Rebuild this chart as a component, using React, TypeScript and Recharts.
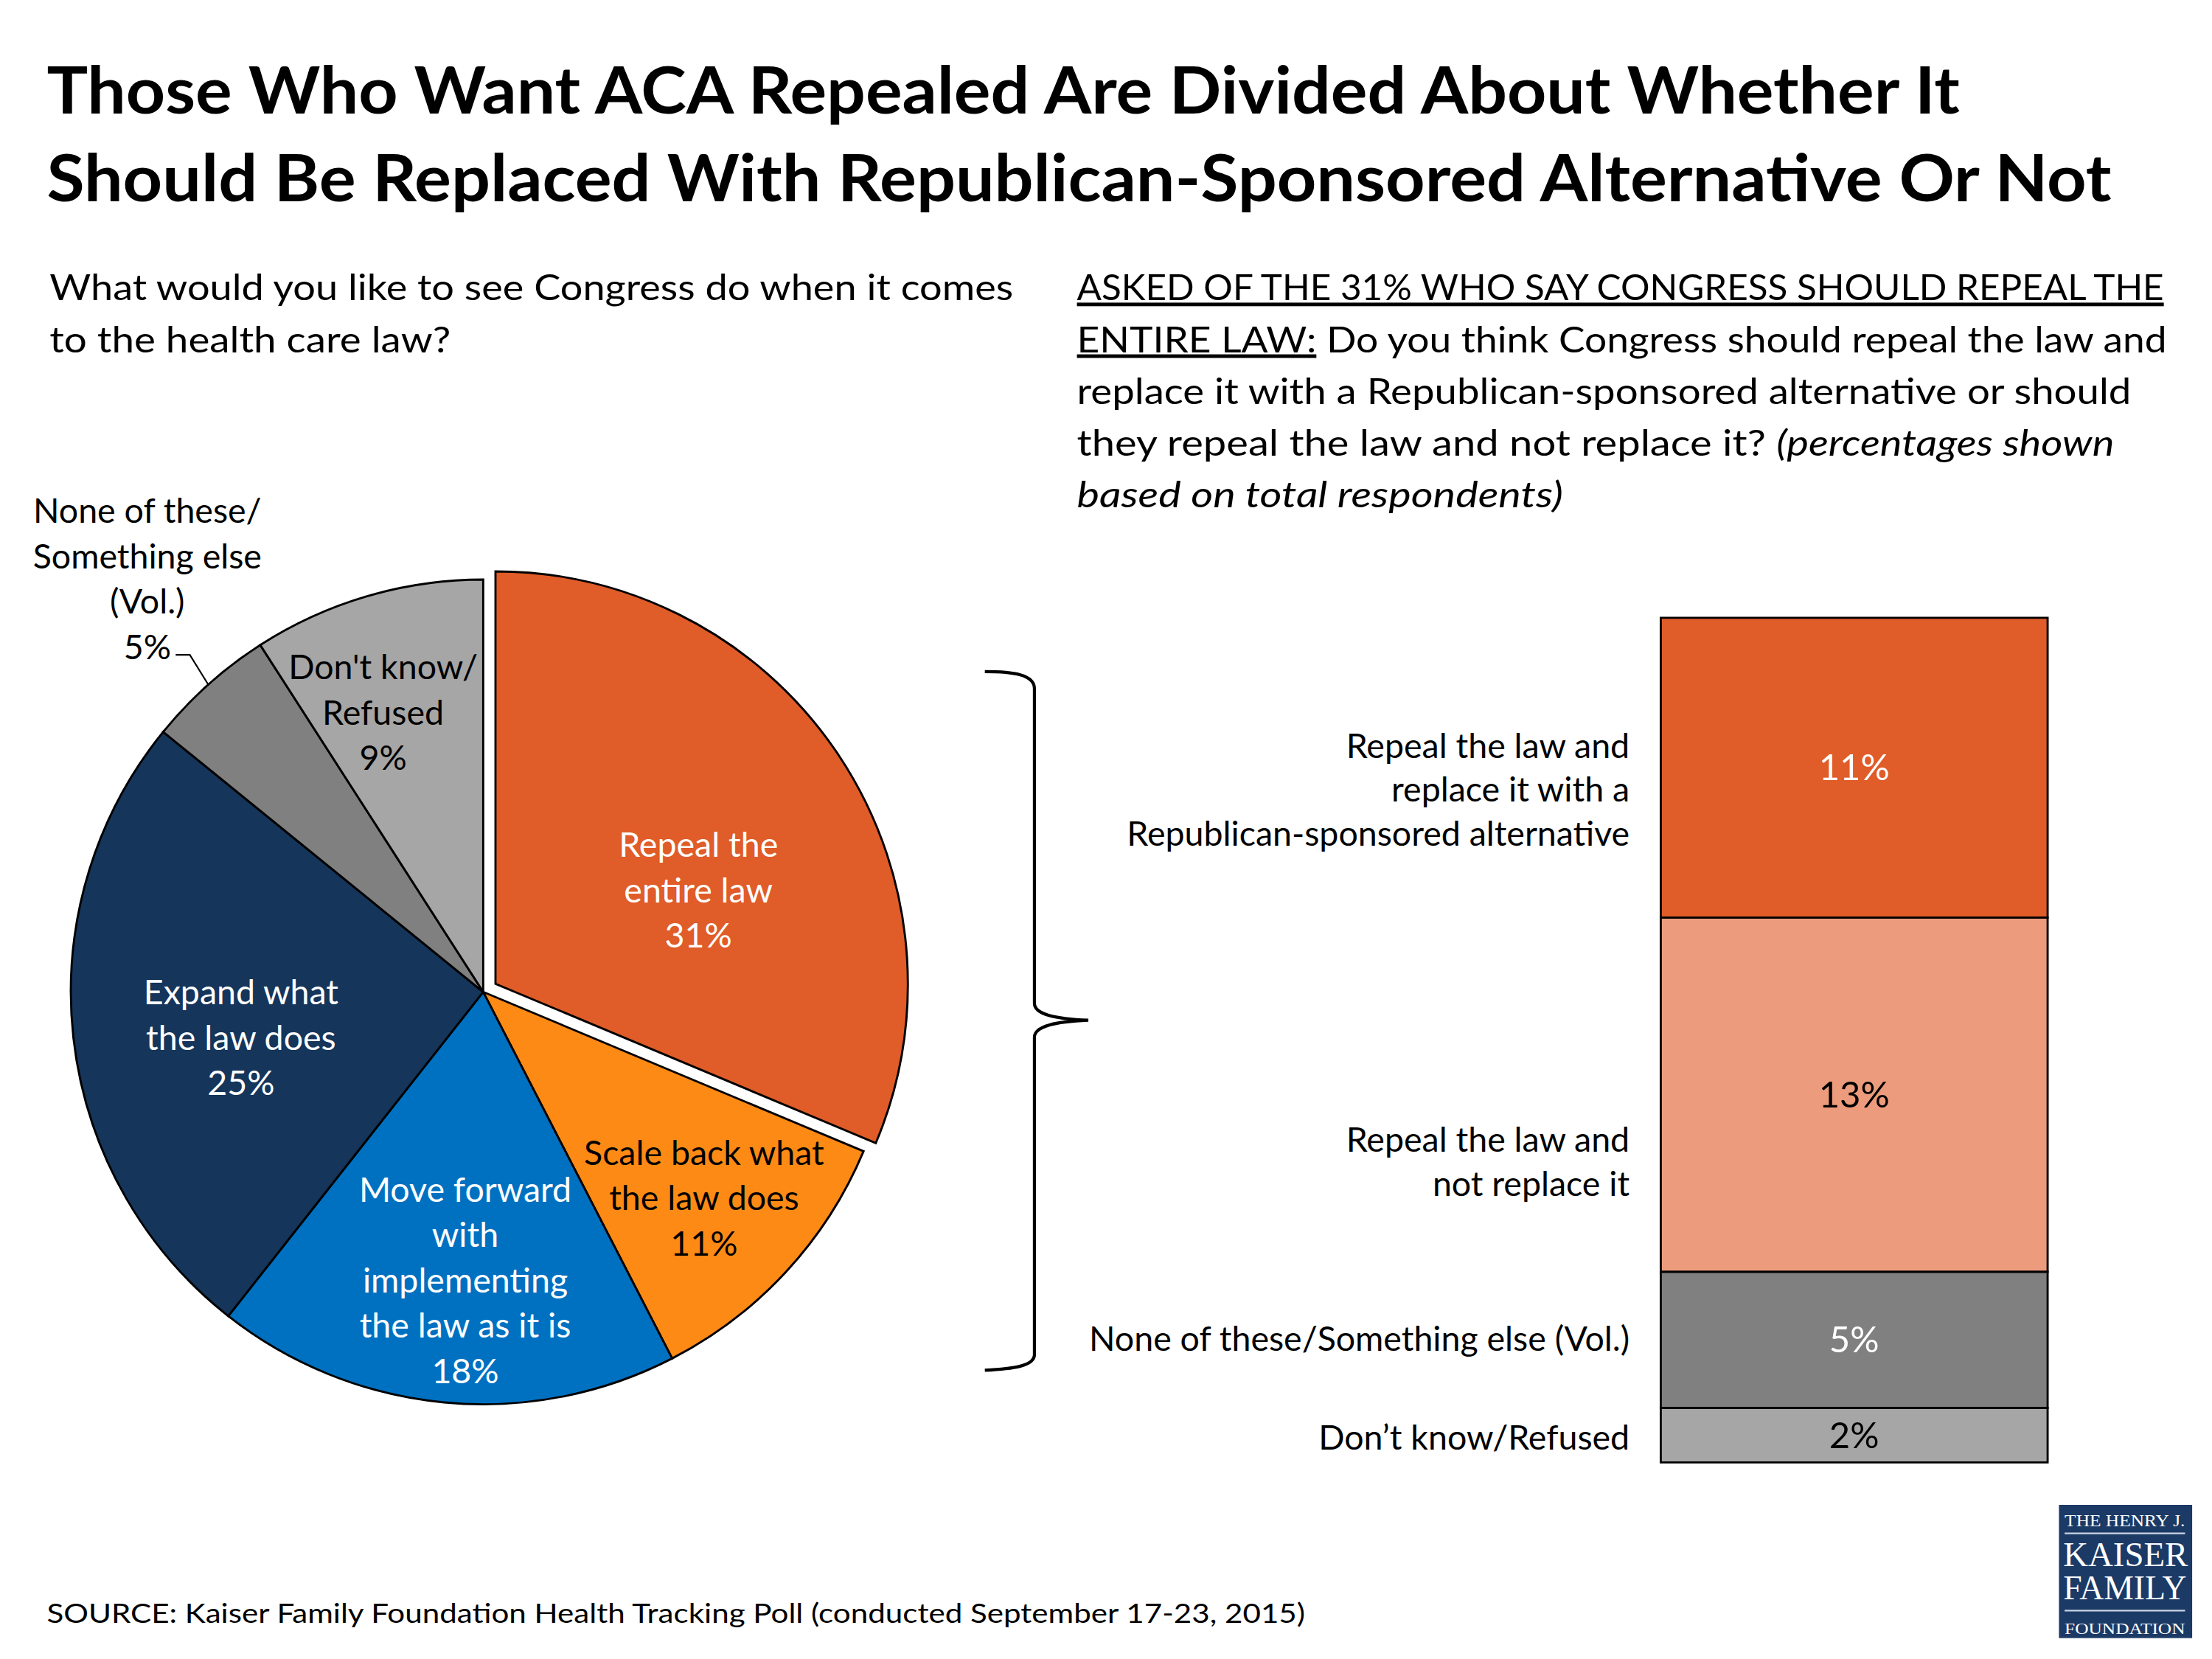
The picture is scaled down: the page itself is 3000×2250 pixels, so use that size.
import React from 'react';
import { PieChart, Pie, Cell, BarChart, Bar, XAxis, YAxis, LabelList } from 'recharts';

// ---------- data ----------
const pieCategories = [
  'Repeal the entire law',
  'Scale back what the law does',
  'Move forward with implementing the law as it is',
  'Expand what the law does',
  'None of these/Something else (Vol.)',
  "Don't know/Refused",
];
const pieValues = [31, 11, 18, 25, 5, 9];
const pieLabelLines = [
  ['Repeal the', 'entire law'],
  ['Scale back what', 'the law does'],
  ['Move forward', 'with', 'implementing', 'the law as it is'],
  ['Expand what', 'the law does'],
  ['None of these/', 'Something else', '(Vol.)'],
  ["Don't know/", 'Refused'],
];

const barKeys = ['replace', 'notReplace', 'none', 'dk'];
const barCategories = [
  'Repeal the law and replace it with a Republican-sponsored alternative',
  'Repeal the law and not replace it',
  'None of these/Something else (Vol.)',
  'Don\u2019t know/Refused',
];
const barValues = [11, 13, 5, 2];
const barLabelLines = [
  ['Repeal the law and', 'replace it with a', 'Republican-sponsored alternative'],
  ['Repeal the law and', 'not replace it'],
  ['None of these/Something else (Vol.)'],
  ['Don\u2019t know/Refused'],
];

// ---------- styles ----------
const W = 1561;
const H = 1171;
const S = 3000 / W;
const FONT = 'Lato, "Open Sans", sans-serif';

const pieColors = ['#E05C28', '#FD8A14', '#0071C1', '#15355A', '#808080', '#A6A6A6'];
const pieTextColors = ['#fff', '#000', '#fff', '#fff', '#000', '#000'];
const pieLabelPos = [
  { frac: 0.541, dAng: -9.1 },
  { frac: 0.734, dAng: -0.4 },
  { frac: 0.702, dAng: 1.9 },
  { frac: 0.598, dAng: 4.5 },
  { outside: true, frac: 1, dAng: 0 },
  { frac: 0.718, dAng: 3.4 },
];
const barColors = ['#E05C28', '#EC9C7C', '#808080', '#A6A6A6'];
const barPctColors = ['#fff', '#000', '#fff', '#000'];
const barLabelDy = [16, 48, 0, 2];

const PIE_W = 720;
const PIE_H = 700;
const PIE_LEFT = 0;
const PIE_TOP = 330;
const PIE_CX = 341;
const PIE_CY = 370;
const PIE_R = 291;
const EXPLODE = 10.4;
const RAD = Math.PI / 180;
const LABEL_SIZE = 24.2;
const LINE = 32;

const pieData = pieCategories.map((name, i) => ({ name, value: pieValues[i] }));
const pieTotal = pieValues.reduce((a, b) => a + b, 0);
const explodeMid = (90 - (pieValues[0] / pieTotal) * 360 / 2) * RAD;
const explodeDx = EXPLODE * Math.cos(explodeMid);
const explodeDy = -EXPLODE * Math.sin(explodeMid);

const barRow: Record<string, any> = { name: 'Repeal the entire law' };
barKeys.forEach((k, i) => {
  barRow[k] = barValues[i];
});
const barData = [barRow];
const barTotal = barValues.reduce((a, b) => a + b, 0);

const makePieLabel = (explodedOnly: boolean) => (props: any) => {
  const { index, midAngle, outerRadius } = props;
  const cx = props.cx ?? PIE_CX;
  const cy = props.cy ?? PIE_CY;
  if (explodedOnly !== (index === 0)) return null;
  const lines = [...pieLabelLines[index], `${pieValues[index]}%`];
  const pos: any = pieLabelPos[index];
  const color = pieTextColors[index];
  if (pos.outside) {
    const a = midAngle * RAD;
    const px = cx + outerRadius * Math.cos(a);
    const py = cy - outerRadius * Math.sin(a);
    const lastBase = py - 18;
    const tx = px - 43;
    return (
      <g>
        <polyline
          points={`${px},${py} ${px - 13},${py - 21} ${px - 23},${py - 21}`}
          fill="none"
          stroke="#000"
          strokeWidth={1.1}
        />
        <text textAnchor="middle" fill={color} fontSize={LABEL_SIZE} fontFamily={FONT}>
          {lines.map((t, i) => (
            <tspan key={i} x={tx} y={lastBase - (lines.length - 1 - i) * LINE}>
              {t}
            </tspan>
          ))}
        </text>
      </g>
    );
  }
  const a = (midAngle + pos.dAng) * RAD;
  const lx = cx + outerRadius * pos.frac * Math.cos(a);
  const ly = cy - outerRadius * pos.frac * Math.sin(a);
  return (
    <text textAnchor="middle" fill={color} fontSize={LABEL_SIZE} fontFamily={FONT}>
      {lines.map((t, i) => (
        <tspan key={i} x={lx} y={ly + (i - (lines.length - 1) / 2) * LINE + 8}>
          {t}
        </tspan>
      ))}
    </text>
  );
};

const makePct = (i: number) => (p: any) => {
  const { x, y, width, height, value } = p;
  return (
    <text
      x={x + width / 2}
      y={y + height / 2 + 9}
      textAnchor="middle"
      fill={barPctColors[i]}
      fontSize={25.5}
      fontFamily={FONT}
    >
      {`${value}%`}
    </text>
  );
};

const makeCat = (i: number) => (p: any) => {
  const { x, y, height } = p;
  const lines = barLabelLines[i];
  const c = y + height / 2 + barLabelDy[i];
  return (
    <text textAnchor="end" fill="#000" fontSize={LABEL_SIZE} fontFamily={FONT}>
      {lines.map((t, j) => (
        <tspan key={j} x={x - 22} y={c + (j - (lines.length - 1) / 2) * 31 + 8}>
          {t}
        </tspan>
      ))}
    </text>
  );
};

const BAR_LEFT = 760;
const BAR_TOP = 400;
const BAR_W = 800;
const BAR_H = 700;

export default function App() {
  const stackOrder = [3, 2, 1, 0]; // bottom to top
  return (
    <div
      style={{
        position: 'absolute',
        left: 0,
        top: 0,
        width: 3000,
        height: 2250,
        background: '#fff',
        overflow: 'hidden',
      }}
    >
      <div
        style={{
          position: 'absolute',
          left: 0,
          top: 0,
          width: W,
          height: H,
          transform: `scale(${S})`,
          transformOrigin: '0 0',
        }}
      >
        <div style={{ position: 'absolute', left: PIE_LEFT, top: PIE_TOP }}>
          <PieChart width={PIE_W} height={PIE_H} margin={{ top: 0, right: 0, bottom: 0, left: 0 }}>
            <Pie
              data={pieData}
              dataKey="value"
              nameKey="name"
              cx={PIE_CX}
              cy={PIE_CY}
              outerRadius={PIE_R}
              startAngle={90}
              endAngle={-270}
              stroke="#000"
              strokeWidth={1.5}
              labelLine={false}
              label={makePieLabel(false)}
              isAnimationActive={false}
            >
              {pieData.map((d, i) => (
                <Cell
                  key={d.name}
                  fill={i === 0 ? 'none' : pieColors[i]}
                  stroke={i === 0 ? 'none' : '#000'}
                />
              ))}
            </Pie>
            <Pie
              data={pieData}
              dataKey="value"
              nameKey="name"
              cx={PIE_CX + explodeDx}
              cy={PIE_CY + explodeDy}
              outerRadius={PIE_R}
              startAngle={90}
              endAngle={-270}
              stroke="#000"
              strokeWidth={1.5}
              labelLine={false}
              label={makePieLabel(true)}
              isAnimationActive={false}
            >
              {pieData.map((d, i) => (
                <Cell
                  key={d.name}
                  fill={i === 0 ? pieColors[0] : 'none'}
                  stroke={i === 0 ? '#000' : 'none'}
                />
              ))}
            </Pie>
          </PieChart>
        </div>

        <div style={{ position: 'absolute', left: BAR_LEFT, top: BAR_TOP }}>
          <BarChart
            width={BAR_W}
            height={BAR_H}
            data={barData}
            margin={{ top: 36, right: 115, bottom: 68, left: 412 }}
            barCategoryGap={0}
            barGap={0}
          >
            <XAxis dataKey="name" hide />
            <YAxis type="number" domain={[0, barTotal]} hide />
            {stackOrder.map((i) => (
              <Bar
                key={barKeys[i]}
                dataKey={barKeys[i]}
                name={barCategories[i]}
                stackId="a"
                fill={barColors[i]}
                stroke="#000"
                strokeWidth={1.5}
                isAnimationActive={false}
              >
                <LabelList dataKey={barKeys[i]} content={makePct(i)} />
                <LabelList dataKey={barKeys[i]} content={makeCat(i)} />
              </Bar>
            ))}
          </BarChart>
        </div>

        <svg
          width={W}
          height={H}
          style={{ position: 'absolute', left: 0, top: 0, pointerEvents: 'none' }}
          fontFamily={FONT}
        >
          {/* Title */}
          <text x={33} y={80} fontSize={46} fontWeight={700} fill="#000" textLength={1350} lengthAdjust="spacingAndGlyphs">
            Those Who Want ACA Repealed Are Divided About Whether It
          </text>
          <text x={33} y={142} fontSize={46} fontWeight={700} fill="#000" textLength={1457} lengthAdjust="spacingAndGlyphs">
            Should Be Replaced With Republican-Sponsored Alternative Or Not
          </text>

          {/* Left question */}
          <text x={35} y={212} fontSize={25.4} fill="#000" textLength={680} lengthAdjust="spacingAndGlyphs">
            What would you like to see Congress do when it comes
          </text>
          <text x={35} y={248.5} fontSize={25.4} fill="#000" textLength={283} lengthAdjust="spacingAndGlyphs">
            to the health care law?
          </text>

          {/* Right question */}
          <text x={760} y={212} fontSize={25.4} fill="#000" textLength={767} lengthAdjust="spacingAndGlyphs">
            <tspan style={{ textDecoration: 'underline' }}>ASKED OF THE 31% WHO SAY CONGRESS SHOULD REPEAL THE</tspan>
          </text>
          <text x={760} y={248.5} fontSize={25.4} fill="#000" textLength={769} lengthAdjust="spacingAndGlyphs">
            <tspan style={{ textDecoration: 'underline' }}>ENTIRE LAW:</tspan>
            <tspan>{' Do you think Congress should repeal the law and'}</tspan>
          </text>
          <text x={760} y={285} fontSize={25.4} fill="#000" textLength={744} lengthAdjust="spacingAndGlyphs">
            replace it with a Republican-sponsored alternative or should
          </text>
          <text x={760} y={321.5} fontSize={25.4} fill="#000" textLength={732} lengthAdjust="spacingAndGlyphs">
            <tspan>{'they repeal the law and not replace it? '}</tspan>
            <tspan fontStyle="italic">(percentages shown</tspan>
          </text>
          <text x={760} y={358} fontSize={25.4} fill="#000" fontStyle="italic" textLength={343} lengthAdjust="spacingAndGlyphs">
            based on total respondents)
          </text>

          {/* Bracket */}
          <path
            d="M 695 474 C 715 474, 730 476, 730 486 L 730 708 C 730 716, 745 719, 768 720 C 745 721, 730 724, 730 732 L 730 956 C 730 964, 715 966, 695 967"
            fill="none"
            stroke="#000"
            strokeWidth={2.2}
          />

          {/* Source */}
          <text x={33} y={1145} fontSize={19.5} fill="#000" textLength={888} lengthAdjust="spacingAndGlyphs">
            SOURCE: Kaiser Family Foundation Health Tracking Poll (conducted September 17-23, 2015)
          </text>

          {/* Logo */}
          <g fontFamily='"Liberation Serif", "DejaVu Serif", serif' fill="#fff">
            <rect x={1453} y={1062} width={94} height={94} fill="#1B3A66" />
            <rect x={1457} y={1081.5} width={85} height={1.2} fill="#c9d2e0" />
            <rect x={1457} y={1136} width={85} height={1.2} fill="#c9d2e0" />
            <text x={1457} y={1077} fontSize={11.5} textLength={85} lengthAdjust="spacingAndGlyphs">THE HENRY J.</text>
            <text x={1456} y={1105} fontSize={24.5} textLength={88} lengthAdjust="spacingAndGlyphs">KAISER</text>
            <text x={1456} y={1128.5} fontSize={24.5} textLength={87} lengthAdjust="spacingAndGlyphs">FAMILY</text>
            <text x={1457} y={1153} fontSize={10.5} textLength={85} lengthAdjust="spacingAndGlyphs">FOUNDATION</text>
          </g>
        </svg>
      </div>
    </div>
  );
}
